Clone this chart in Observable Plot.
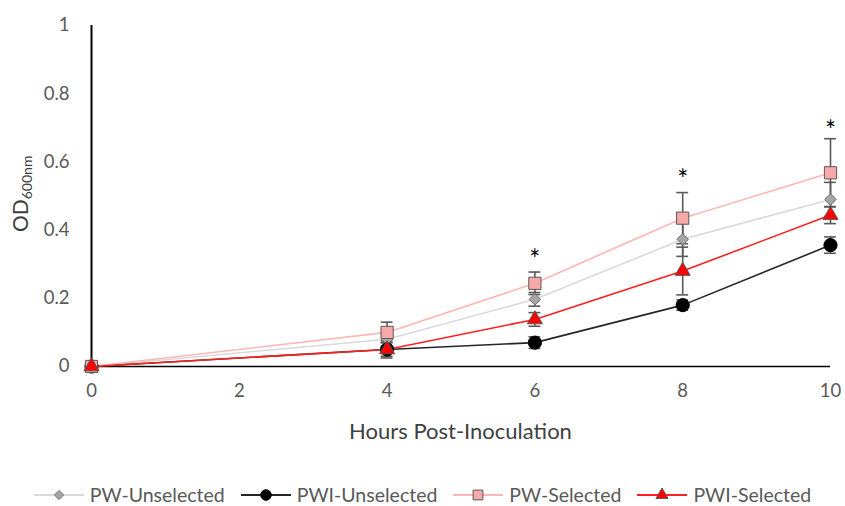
<!DOCTYPE html>
<html><head><meta charset="utf-8">
<script src="https://cdn.jsdelivr.net/npm/d3@7"></script>
<script src="https://cdn.jsdelivr.net/npm/@observablehq/plot@0.6"></script>
<style>
body{margin:0;background:#fff;font-family:Lato,"Open Sans",sans-serif;overflow:hidden;}
#wrap{position:relative;width:845px;height:506px;}
#legend{position:absolute;left:0;top:484px;width:845px;height:22px;display:flex;justify-content:center;align-items:center;font-size:19.5px;line-height:22px;color:#595959;}
.item{display:flex;align-items:center;margin:0 8px;height:22px;}
.item span{line-height:22px;}
.item svg{margin-right:6px;}
</style></head><body><div id="wrap"></div>
<script>
// ---- data ----
const hours = [0, 4, 6, 8, 10];
const seriesNames = ["PW-Unselected", "PWI-Unselected", "PW-Selected", "PWI-Selected"];
const pwUnselected  = [0, 0.080, 0.197, 0.373, 0.490];
const pwiUnselected = [0, 0.050, 0.070, 0.180, 0.356];
const pwSelected    = [0, 0.100, 0.244, 0.435, 0.568];
const pwiSelected   = [0, 0.050, 0.138, 0.280, 0.444];
const pwUnselectedErr  = [0, 0.020, 0.020, 0.050, 0.050];
const pwiUnselectedErr = [0, 0.020, 0.017, 0.015, 0.024];
const pwSelectedErr    = [0, 0.030, 0.033, 0.075, 0.100];
const pwiSelectedErr   = [0, 0.025, 0.020, 0.070, 0.025];
const starHours  = [6, 8, 10];
const starLevels = [0.33, 0.565, 0.71];
const xTicks = [0, 2, 4, 6, 8, 10];
const yTicks = [0, 0.2, 0.4, 0.6, 0.8, 1];
const xTitle = "Hours Post-Inoculation";
const yTitleMain = "OD";
const yTitleSub = "600nm";

// ---- styles ----
const lineColors  = ["#d9d9d9", "#262626", "#ffb6b6", "#ff1f1f"];
const markerFills = ["#a6a6a6", "#000000", "#f7a8a8", "#ff0000"];
const markerStrokes = ["#707070", "#000000", "#595959", "#595959"];
const symbols = ["diamond2", "circle", "square", "triangle"];
const radii = [5.2, 6.6, 6.9, 5.6];

const values = [pwUnselected, pwiUnselected, pwSelected, pwiSelected];
const errs = [pwUnselectedErr, pwiUnselectedErr, pwSelectedErr, pwiSelectedErr];
const rows = [];
seriesNames.forEach((s, i) => hours.forEach((h, j) => rows.push({series: s, idx: i, x: h, y: values[i][j], e: errs[i][j]})));
const errRows = rows.filter(d => d.e > 0);
const stars = starHours.map((h, i) => ({x: h, y: starLevels[i]}));
const capHalf = 0.08;

const marks = [
  Plot.ruleY([0], {x1: 0, x2: 10, stroke: "#000", strokeWidth: 1.6}),
  Plot.ruleX([0], {y1: 0, y2: 1, stroke: "#000", strokeWidth: 2})
];
seriesNames.forEach((s, i) => {
  marks.push(Plot.line(rows.filter(d => d.idx === i), {x: "x", y: "y", stroke: lineColors[i], strokeWidth: 1.6}));
});
marks.push(
  Plot.ruleX(errRows, {x: "x", y1: d => d.y - d.e, y2: d => d.y + d.e, stroke: "#595959", strokeWidth: 1.6}),
  Plot.ruleY(errRows, {y: d => d.y + d.e, x1: d => d.x - capHalf, x2: d => d.x + capHalf, stroke: "#595959", strokeWidth: 1.6}),
  Plot.ruleY(errRows, {y: d => d.y - d.e, x1: d => d.x - capHalf, x2: d => d.x + capHalf, stroke: "#595959", strokeWidth: 1.6})
);
seriesNames.forEach((s, i) => {
  marks.push(Plot.dot(rows.filter(d => d.idx === i), {x: "x", y: "y", symbol: () => symbols[i], r: radii[i], fill: markerFills[i], stroke: markerStrokes[i], strokeWidth: 1}));
});
marks.push(Plot.text(stars, {x: "x", y: "y", text: () => "*", fontSize: 26, fill: "#000", dy: 7}));

const plot = Plot.plot({
  width: 845, height: 470,
  marginLeft: 91, marginRight: 15, marginTop: 25, marginBottom: 104,
  style: {fontFamily: "Lato, 'Open Sans', sans-serif", fontSize: "18.5px", color: "#595959", background: "#fff"},
  symbol: {type: "identity"},
  x: {domain: [0, 10], ticks: xTicks, tickSize: 0, tickPadding: 17, label: null, tickFormat: d3.format("")},
  y: {domain: [0, 1], ticks: yTicks, tickSize: 0, tickPadding: 22, label: null, tickFormat: d3.format("")},
  marks
});
document.getElementById("wrap").appendChild(plot);

const svg = d3.select(plot);
const xs = plot.scale("x"), ys = plot.scale("y");
// x-axis title
svg.append("text")
  .attr("x", (xs.apply(0) + xs.apply(10)) / 2)
  .attr("y", 439)
  .attr("text-anchor", "middle")
  .attr("fill", "#404040")
  .style("font-size", "22px")
  .text(xTitle);
// y-axis title with subscript
const t = svg.append("text")
  .attr("transform", `translate(28,${ys.apply(0.505)}) rotate(-90)`)
  .attr("text-anchor", "middle")
  .attr("fill", "#404040")
  .style("font-size", "21px");
t.append("tspan").text(yTitleMain);
t.append("tspan").text(yTitleSub).style("font-size", "14px").attr("dy", 4);

// legend
const legend = document.createElement("div");
legend.id = "legend";
seriesNames.forEach((s, i) => {
  const item = document.createElement("div");
  item.className = "item";
  const w = 50, h = 20;
  const sv = d3.create("svg").attr("width", w).attr("height", h);
  sv.append("line").attr("x1", 0).attr("x2", w).attr("y1", h/2).attr("y2", h/2).attr("stroke", lineColors[i]).attr("stroke-width", 1.8);
  const symMap = {diamond2: d3.symbolDiamond2, circle: d3.symbolCircle, square: d3.symbolSquare, triangle: d3.symbolTriangle};
  const sz = Math.PI * (radii[i] * 0.8) ** 2;
  sv.append("path").attr("d", d3.symbol(symMap[symbols[i]], sz)()).attr("transform", `translate(${w/2},${h/2})`)
    .attr("fill", markerFills[i]).attr("stroke", markerStrokes[i]).attr("stroke-width", 1);
  item.appendChild(sv.node());
  const lab = document.createElement("span");
  lab.textContent = s;
  item.appendChild(lab);
  legend.appendChild(item);
});
document.getElementById("wrap").appendChild(legend);
</script></body></html>
